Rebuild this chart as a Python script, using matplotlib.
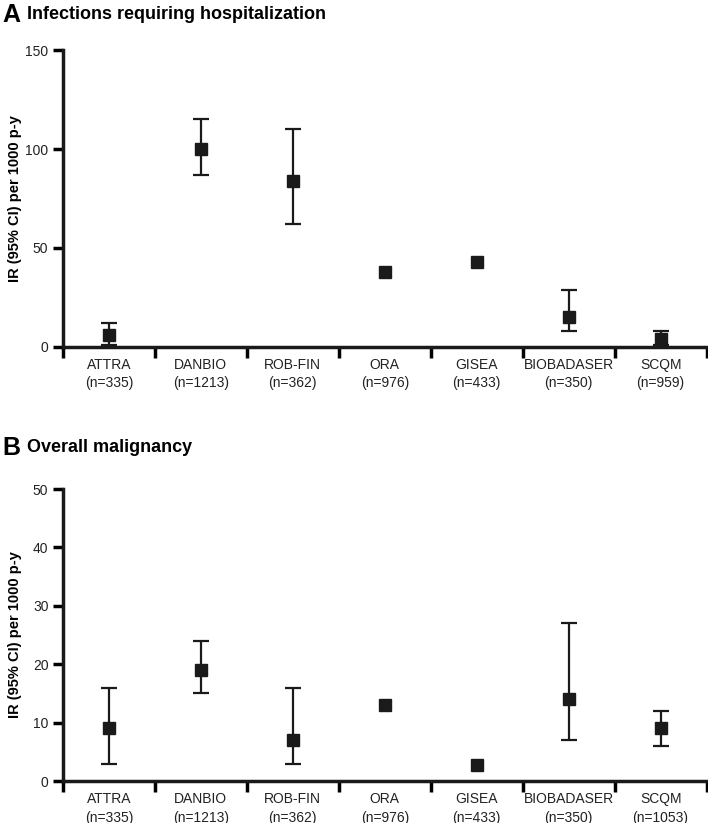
import matplotlib.pyplot as plt
import numpy as np

plt.rcParams['font.family'] = ['Liberation Sans', 'DejaVu Sans']

registries = ['ATTRA', 'DANBIO', 'ROB-FIN', 'ORA', 'GISEA', 'BIOBADASER', 'SCQM']
n_inf = [335, 1213, 362, 976, 433, 350, 959]
n_mal = [335, 1213, 362, 976, 433, 350, 1053]

# infections requiring hospitalization, IR per 1000 p-y (nan = no CI shown)
inf_ir = [6, 100, 84, 38, 43, 15, 4]
inf_lo = [1, 87, 62, np.nan, np.nan, 8, 1]
inf_hi = [12, 115, 110, np.nan, np.nan, 29, 8]

# overall malignancy
mal_ir = [9, 19, 7, 13, 2.8, 14, 9]
mal_lo = [3, 15, 3, np.nan, np.nan, 7, 6]
mal_hi = [16, 24, 16, np.nan, np.nan, 27, 12]

fig = plt.figure(figsize=(7.08, 8.23), dpi=100)


def panel(rect, ir, lo, hi, ns, ymax, yticks, letter, title, title_y):
    ax = fig.add_axes(rect)
    x = np.arange(len(registries))
    ir = np.array(ir, float)
    lo = np.array(lo, float)
    hi = np.array(hi, float)
    has = ~np.isnan(lo)
    ax.errorbar(x[has], ir[has], yerr=[ir[has] - lo[has], hi[has] - ir[has]],
                fmt='none', ecolor='#1a1a1a', elinewidth=1.6, capsize=5.5, capthick=1.6)
    ax.plot(x, ir, 's', color='#1a1a1a', markersize=8, zorder=3)
    ax.set_xlim(-0.5, len(registries) - 0.5)
    ax.set_ylim(0, ymax)
    ax.set_yticks(yticks)
    ax.set_xticks(np.arange(len(registries) + 1) - 0.5)
    ax.set_xticklabels([])
    ax.set_xticks(x, minor=True)
    ax.set_xticklabels([f'{r}\n(n={n})' for r, n in zip(registries, ns)], minor=True,
                       linespacing=1.4)
    ax.tick_params(axis='x', which='minor', length=0, pad=8, labelsize=10, colors='#222222')
    ax.tick_params(axis='x', which='major', length=8, width=2.5, direction='out')
    ax.tick_params(axis='y', length=7, width=2.5, labelsize=10, labelcolor='#222222')
    for s in ['top', 'right']:
        ax.spines[s].set_visible(False)
    for s in ['left', 'bottom']:
        ax.spines[s].set_linewidth(2.5)
        ax.spines[s].set_color('#1a1a1a')
    ax.set_ylabel('IR (95% CI) per 1000 p-y', fontsize=10.5, fontweight='bold')
    ax.yaxis.set_label_coords(-0.064, 0.5)
    fig.text(0.003, title_y, letter, fontsize=18, fontweight='bold', va='center')
    fig.text(0.038, title_y, title, fontsize=13, fontweight='bold', va='center')
    return ax


panel([0.089, 0.5784, 0.909, 0.3608], inf_ir, inf_lo, inf_hi, n_inf, 150, [0, 50, 100, 150],
      'A', 'Infections requiring hospitalization', 0.982)
panel([0.089, 0.051, 0.909, 0.3548], mal_ir, mal_lo, mal_hi, n_mal, 50, [0, 10, 20, 30, 40, 50],
      'B', 'Overall malignancy', 0.456)

fig.savefig('out.png', dpi=100)
